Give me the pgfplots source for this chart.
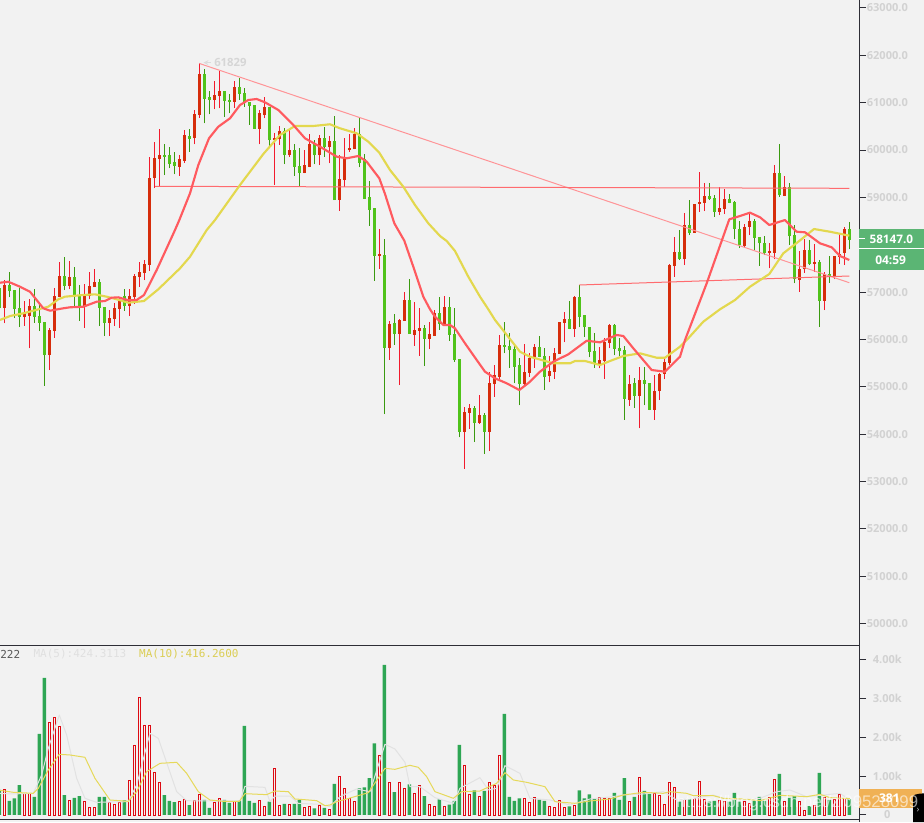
\documentclass[border=0pt]{standalone}
\usepackage{fontspec}
\setmainfont{Open Sans}
\newfontfamily\monofnt{DejaVu Sans Mono}
\newfontfamily\wmfnt{Liberation Sans}
\usepackage{pgfplots}
\usepackage{pgfplotstable}
\pgfplotsset{compat=1.18}
\definecolor{bgc}{HTML}{F2F2F2}
\definecolor{axc}{HTML}{2E2E36}
\definecolor{lab}{HTML}{D2D2D2}
\definecolor{rwick}{HTML}{F21B2D}
\definecolor{rbody}{HTML}{D62D0B}
\definecolor{gwick}{HTML}{3A9A10}
\definecolor{gbody}{HTML}{50C31A}
\definecolor{vgreen}{HTML}{2EA654}
\definecolor{vred}{HTML}{DD0A12}
\definecolor{maR}{HTML}{FF5A5F}
\definecolor{maY}{HTML}{E3D84E}
\definecolor{vY}{HTML}{E6D95A}
\definecolor{vG}{HTML}{E2E2E2}
\definecolor{tagG}{HTML}{5BB574}
\definecolor{tagO}{HTML}{F0B155}
\pgfplotstableread{
x l h b t
0 56340 57255 56671 57149
4 56290 56811 56481 56572
5 55812 56847 56495 56706
9 55354 56234 55671 56199
10 56037 57079 56185 56917
11 56903 57635 56903 57339
13 57058 57656 57135 57318
16 56248 57163 56706 56917
17 56847 57417 56917 57128
18 57107 57487 57107 57213
21 56072 56621 56354 56452
22 56283 56776 56438 56657
23 56248 56868 56650 56833
25 56495 57058 56706 56917
26 56748 57382 56903 57339
27 57114 57628 57318 57424
28 57255 57677 57410 57593
29 57445 59846 57578 59403
30 59191 60177 59403 59825
31 59241 60445 59818 59895
35 59452 59895 59649 59804
36 59733 60423 59769 60318
38 60121 60846 60247 60761
39 60677 61829 60747 61606
42 60860 61458 61057 61163
43 60881 61677 61141 61247
46 60895 61458 61015 61332
51 60121 60846 60445 60775
52 60670 61113 60740 60909
54 59262 60353 60212 60254
55 60107 60508 60226 60402
57 59860 60459 59888 60001
60 59508 60001 59515 59684
61 59635 60339 59649 60128
63 59684 60318 59895 60247
65 59719 60297 60057 60184
67 58720 59895 58945 59381
68 59227 60247 59367 59825
69 59966 60332 60001 60043
70 60015 60459 60022 60339
75 57488 58332 57760 57810
77 55566 56397 55827 56327
79 55038 56432 56115 56411
80 56390 57009 56390 56833
82 55862 56784 56094 56200
83 55651 56657 56179 56242
85 55791 56362 56010 56115
86 56080 56622 56080 56552
88 56305 56918 56305 56686
92 53271 54567 54053 54461
93 54116 54630 54447 54552
95 54215 54820 54236 54398
97 53644 55320 54053 55073
98 54792 55468 55059 55242
99 55144 56087 55214 55883
104 55003 55904 55052 55313
105 55214 55707 55299 55615
106 55404 55904 55615 55834
109 55095 55651 55228 55327
110 55172 55827 55320 55707
111 55693 56376 55693 56369
112 55939 56587 56355 56425
114 56059 56918 56221 56897
119 55390 55834 55482 55566
120 55172 56024 55552 55953
121 55813 56327 55932 56305
125 54595 55242 54728 55052
127 54123 55411 54813 55144
130 54306 55242 54517 54904
131 54721 55285 54904 55271
132 55158 55580 55271 55524
133 55450 57586 55509 57572
134 57325 58170 57551 57839
136 57572 58677 57691 58417
138 58250 58860 58255 58860
139 58698 59543 58860 58902
140 58712 59311 58888 59029
143 58628 59212 58698 58776
144 58649 59170 58762 58959
148 57938 58438 57980 58381
149 58205 58698 58381 58508
153 57501 58043 57825 57867
154 57691 59684 57832 59508
156 59029 59451 59036 59219
159 57009 57874 57262 57480
160 57410 58114 57480 57889
162 57431 58008 57593 57635
164 56621 57431 56819 57382
166 57276 57762 57318 57762
167 57593 58226 57748 57804
168 57572 58367 57825 58332
}\redC
\pgfplotstableread{
x l h b t
-1 56600 57150 56671 57079
1 56889 57417 57023 57149
2 56452 57044 56643 57044
3 56262 57079 56481 56664
6 56354 57058 56481 56706
7 56178 56748 56354 56495
8 55023 56368 55671 56368
12 57044 57734 57135 57339
14 56692 57530 56924 57318
15 56396 57149 56692 56924
19 56283 57269 56671 57213
20 56072 56692 56354 56678
24 56607 57058 56706 56917
32 59473 60128 59860 59895
33 59614 60057 59705 59895
34 59487 59966 59670 59748
37 59966 60437 60240 60297
40 60564 61712 61085 61606
41 60754 61247 61057 61120
44 60705 61247 61043 61247
45 60775 61184 61015 61057
47 61057 61515 61184 61332
48 60916 61303 61015 61205
49 60529 61022 60937 61015
50 60445 60951 60445 60951
53 60092 60909 60212 60902
56 59705 60459 59895 60402
58 59452 60128 59649 60001
59 59227 60036 59515 59663
62 59698 60212 59888 60128
64 59860 60480 60071 60247
66 58945 60719 58945 60191
71 59635 60691 59733 60339
72 58966 59917 58966 59811
73 58402 59346 58734 59015
74 57240 58776 57768 58776
76 54425 58115 55825 57777
78 55883 56538 56115 56341
81 56129 57270 56122 56833
84 55439 56305 56010 56242
87 56200 56904 56327 56559
89 55975 56890 56094 56686
90 55531 56664 55566 56115
91 53933 55587 54053 55587
94 53834 54595 54236 54552
96 53588 54440 54053 54405
100 55707 56376 55841 55883
101 55404 56129 55777 55862
102 55073 55904 55425 55806
103 54609 55601 55059 55461
107 55623 56080 55630 55834
108 54933 55813 55214 55651
113 56214 56805 56221 56425
115 56256 57157 56481 56897
116 56059 56517 56256 56510
117 55623 56270 55742 56263
118 55404 56129 55496 55756
122 55665 56319 55806 56305
123 55658 56024 55756 55820
124 54299 55862 54750 55777
126 54560 55186 54813 55080
128 54609 55411 55059 55144
129 54510 55087 54517 55080
135 57677 58311 57691 57846
137 58205 58945 58255 58417
141 58945 59311 58966 59029
142 58593 59050 58698 58987
145 58874 59071 58888 58959
146 58114 58923 58325 58902
147 57938 58508 57987 58325
150 57889 58536 58149 58494
151 57558 58170 58029 58156
152 57783 58184 57818 58029
155 59015 60120 59050 59508
157 57994 59297 58184 59212
158 57185 58417 57276 58205
161 57572 58100 57593 57889
163 56269 57677 56819 57635
165 57199 57762 57318 57375
169 57903 58480 58100 58332
}\greenC
\pgfplotstableread{
x v
-1 643
1 360
2 429
3 771
6 463
7 2083
8 3522
12 514
14 437
15 488
19 463
20 463
24 377
32 514
33 360
34 334
37 257
40 386
41 180
44 386
45 309
47 369
48 2288
49 360
50 309
53 343
56 283
58 283
59 386
62 171
64 180
66 797
71 686
72 711
73 951
74 1843
76 3857
78 591
81 788
84 488
87 403
89 266
90 360
91 1800
94 634
96 617
100 2597
101 463
102 360
103 429
107 394
108 360
113 223
115 634
116 429
117 531
118 411
122 566
123 386
124 951
126 463
128 617
129 540
135 343
137 411
141 343
142 360
145 343
146 566
147 343
150 360
151 463
152 360
155 1054
157 437
158 488
161 231
163 1080
165 386
169 411
}\greenV
\pgfplotstableread{
x v
0 660
4 557
5 557
9 2382
10 2520
11 2288
13 377
16 351
17 197
18 197
21 317
22 274
23 334
25 891
26 1791
27 3025
28 2305
29 2305
30 1097
31 840
35 351
36 394
38 377
39 531
42 334
43 429
46 343
51 377
52 223
54 1200
55 249
57 274
60 197
61 223
63 240
65 146
67 994
68 686
69 429
70 360
75 1534
77 840
79 840
80 686
82 557
83 763
85 274
86 223
88 223
92 1277
93 540
95 480
97 840
98 763
99 1534
104 429
105 326
106 454
109 223
110 197
111 377
112 197
114 240
119 454
120 437
121 437
125 360
127 968
130 566
131 514
132 283
133 840
134 711
136 411
138 429
139 874
140 411
143 386
144 360
148 360
149 309
153 463
154 917
156 360
159 360
160 129
162 257
164 463
166 411
167 531
168 429
}\redV
\begin{document}
\begin{tikzpicture}[x=1pt,y=1pt]
\useasboundingbox (0,0) rectangle (693pt,616.5pt);
\fill[bgc] (0,0) rectangle (693pt,616.5pt);
\begin{axis}[
  at={(0pt,132.75pt)}, anchor=south west, scale only axis,
  width=644.25pt, height=483.75pt,
  xmin=-0.86, xmax=170.94, ymin=49547, ymax=63169,
  axis x line=none, axis y line=right,
  axis line style={-, draw=axc, line width=.75pt},
  xtick=\empty,
  ytick={50000,51000,52000,53000,54000,55000,56000,57000,58000,59000,60000,61000,62000,63000},
  yticklabels={50000.0,51000.0,52000.0,53000.0,54000.0,55000.0,56000.0,57000.0,58000.0,59000.0,60000.0,61000.0,62000.0,63000.0},
  tick align=outside, major tick length=5.25pt,
  tick style={draw=axc, line width=.75pt},
  yticklabel style={font=\bfseries\fontsize{8.3}{10}\selectfont, text=lab, anchor=center, xshift=16pt},
  clip=true,
]
\addplot[draw=none, forget plot, error bars/.cd, y dir=plus, y explicit, error mark=none, error bar style={rwick, line width=.75pt}] table[x=x, y=l, y error expr=\thisrow{h}-\thisrow{l}] {\redC};
\addplot[draw=none, forget plot, error bars/.cd, y dir=plus, y explicit, error mark=none, error bar style={gwick, line width=.75pt}] table[x=x, y=l, y error expr=\thisrow{h}-\thisrow{l}] {\greenC};
\addplot[draw=none, forget plot, error bars/.cd, y dir=plus, y explicit, error mark=none, error bar style={rbody, line width=2.4pt}] table[x=x, y=b, y error expr=\thisrow{t}-\thisrow{b}] {\redC};
\addplot[draw=none, forget plot, error bars/.cd, y dir=plus, y explicit, error mark=none, error bar style={gbody, line width=2.4pt}] table[x=x, y=b, y error expr=\thisrow{t}-\thisrow{b}] {\greenC};
% trend lines
\addplot[color=maR!65!white, line width=.75pt] coordinates {(39,61829) (169,57198)};
\addplot[color=maR!90!white, line width=.75pt] coordinates {(30.14,59234) (169,59192)};
\addplot[color=maR!90!white, line width=.75pt] coordinates {(115,57150) (169,57340)};
% yellow MA
\addplot[color=maY, line width=1.6pt, line join=round] coordinates {
(-0.86,56411)(1.14,56495)(3.8,56552)(5.8,56607)(8.8,56692)(10.8,56848)(12.14,56903)(15.8,56939)(18.14,56953)(20.48,56903)(22.48,56848)(24.8,56776)(27.94,56812)(30.8,57059)(35.14,57502)(37.14,57747)(40.48,58311)(42.14,58522)(47.14,59262)(51.8,59916)(55.14,60318)(58.14,60508)(61.8,60508)(65.14,60544)(67.14,60459)(70.48,60354)(72.8,60176)(75,59944)(77.14,59579)(79.8,59226)(82.14,58839)(84.8,58453)(87.14,58185)(88.48,58079)(90.14,57868)(92.8,57325)(95.14,56903)(96.8,56637)(98.14,56411)(103.14,55741)(105.14,55635)(109.8,55496)(113.14,55496)(114.14,55545)(116.14,55545)(119.14,55460)(121.14,55545)(123.8,55650)(127.14,55707)(130.48,55614)(132.14,55614)(135.14,55847)(136.48,55988)(139.8,56375)(143.14,56637)(146.14,56833)(149.14,57114)(153,57382)(155.8,57819)(158.8,58064)(161.94,58332)(165.14,58275)(169,58191)};
% red MA
\addplot[color=maR, line width=1.6pt, line join=round] coordinates {
(-0.86,57198)(0.8,57219)(3.14,57114)(5.14,57008)(7.8,56658)(9.14,56607)(11.8,56658)(13.14,56679)(15.8,56691)(18.48,56797)(20.14,56812)(21.48,56882)(22.8,56890)(24.8,56827)(26.48,56833)(27.94,56938)(30.48,57467)(34.14,58311)(35,58522)(37.14,59086)(38.8,59684)(40.94,60248)(42.8,60493)(45.14,60670)(47.14,60951)(48.8,61057)(50.48,61078)(52.14,61008)(54.8,60846)(57.8,60529)(60.14,60248)(63.14,60071)(66.48,59860)(68.48,59826)(70.8,59874)(72.48,59754)(75,59403)(76.14,59072)(78,58453)(80,58086)(81.8,57536)(83.8,56903)(85.14,56637)(86.14,56480)(87.8,56305)(89.14,56305)(90.14,56235)(92.14,55918)(94.48,55566)(96.14,55319)(98.14,55179)(100.48,55074)(103,54932)(105.14,55107)(107.14,55319)(109.8,55530)(112.8,55686)(116.48,55973)(119.14,55939)(122.48,56094)(123.8,56073)(125.8,55813)(129.48,55354)(132.14,55319)(135.14,55635)(136.14,55988)(140.48,57186)(145,58537)(147.14,58607)(149.14,58677)(151.14,58580)(153,58417)(156.14,58522)(158.48,58275)(160.14,58263)(163.14,58030)(165.48,57946)(167.14,57762)(169,57678)};
\end{axis}
\begin{axis}[
  at={(0pt,2.25pt)}, anchor=south west, scale only axis,
  width=644.25pt, height=130.5pt,
  xmin=-0.86, xmax=170.94, ymin=-103, ymax=4370,
  axis x line=box, axis y line=right,
  axis line style={-, draw=axc, line width=.75pt},
  xtick=\empty,
  ytick={0,1000,2000,3000,4000},
  yticklabels={0,1.00k,2.00k,3.00k,4.00k},
  tick align=outside, major tick length=5.25pt,
  tick style={draw=axc, line width=.75pt},
  yticklabel style={font=\bfseries\fontsize{8.3}{10}\selectfont, text=lab, anchor=center, xshift=16pt},
]
\addplot[ybar, bar shift=0pt, bar width=2.6pt, fill=vgreen, draw=none] table[x=x, y=v] {\greenV};
\addplot[ybar, bar shift=0pt, bar width=1.9pt, fill=bgc, draw=vred, line width=.7pt] table[x=x, y=v] {\redV};
\addplot[color=vG, line width=.75pt, line join=round] coordinates {
(-0.87,557)(1.13,540)(5.8,557)(7.47,1028)(8.8,1714)(11,2571)(12.47,2057)(14.47,943)(16.13,429)(18.47,326)(24.8,343)(26.47,771)(29.13,2100)(30.8,1971)(34.47,600)(36.47,369)(39.13,360)(47.13,360)(48.13,737)(52.13,711)(53.13,343)(54.13,488)(57.13,488)(58.8,300)(63.13,274)(65.13,214)(67.13,471)(70.47,668)(73.13,600)(76.13,1817)(78.13,1697)(80.13,1354)(81.13,728)(83.13,728)(86.13,446)(89.8,300)(91.13,686)(95.13,960)(96.8,643)(98.47,686)(100.13,1268)(103.13,1071)(105.13,429)(109.13,386)(113.13,257)(117.13,411)(121.13,463)(123.8,514)(127.8,540)(131.8,600)(134.47,386)(137.13,411)(141.8,514)(143.8,429)(147.8,386)(151.13,429)(154.47,600)(157.13,643)(160.47,471)(163.8,514)(167.13,557)(169.13,386)};
\addplot[color=vY, line width=.75pt, line join=round] coordinates {
(-0.87,634)(1.8,583)(5.8,557)(6.8,686)(8.8,1157)(11,1560)(13.13,1543)(16.13,1483)(18.13,943)(21.13,386)(24.8,351)(26.47,600)(28.47,1114)(31.13,1328)(34.47,1354)(36.47,1071)(38.8,600)(41.13,386)(43.8,351)(47,351)(48.13,548)(52.47,523)(54.13,617)(56.8,600)(58.13,411)(59.13,403)(62.47,369)(64.13,240)(65.13,257)(66.47,343)(68.47,411)(72.8,574)(76.13,1200)(78.13,1174)(81.13,1277)(82.8,1226)(84.47,986)(86.13,600)(89.8,429)(91.47,600)(95.13,617)(98.47,814)(100.13,1088)(101.8,900)(104.47,840)(108.13,728)(110.13,343)(114.13,300)(117.13,360)(121.13,411)(123.8,514)(127.8,583)(131.8,557)(133.13,600)(136.47,557)(137.8,497)(141.8,497)(143.8,429)(147.8,411)(151.13,369)(155.13,506)(160.47,471)(163.13,531)(165.13,446)(169.13,420)};
\end{axis}
% extra stub of the price axis line below the volume panel
\draw[axc, line width=.75pt] (644.25pt,0) -- (644.25pt,3pt);
% annotation
\node[anchor=west, inner sep=0pt, text=black!16, font=\bfseries\fontsize{8.5}{10}\selectfont] at (160.5pt,569.5pt) {61829};
\draw[black!14, line width=.7pt, ->, >=stealth] (158pt,569.5pt) -- (152.5pt,569.5pt);
% volume legend
\node[anchor=west, inner sep=0pt, font=\monofnt\fontsize{8.25}{10}\selectfont, text=black!65] at (0pt,126pt) {222};
\node[anchor=west, inner sep=0pt, font=\monofnt\fontsize{8.25}{10}\selectfont, text=black!12] at (25pt,126pt) {MA(5):424.3113};
\node[anchor=west, inner sep=0pt, font=\monofnt\fontsize{8.25}{10}\selectfont, text=vY!95!black] at (104.2pt,126pt) {MA(10):416.2600};
% price tags
\fill[tagG] (644.6pt,414pt) rectangle (693pt,444.75pt);
\draw[white, line width=.75pt] (644.6pt,429.75pt) -- (693pt,429.75pt);
\draw[white, line width=.75pt] (644.6pt,437.25pt) -- (649pt,437.25pt);
\node[text=white, inner sep=0pt, font=\bfseries\fontsize{8.8}{10}\selectfont] at (668.5pt,437.2pt) {58147.0};
\node[text=white, inner sep=0pt, font=\bfseries\fontsize{9}{10}\selectfont] at (668pt,421.5pt) {04:59};
\fill[tagO] (644.6pt,10.5pt) rectangle (691.5pt,24.75pt);
\node[text=white, inner sep=0pt, font=\bfseries\fontsize{9}{10}\selectfont] at (667pt,18pt) {381};
\fill[black] (684.75pt,0) -- (684.75pt,18pt) .. controls (684.75pt,20.5pt) and (686pt,21pt) .. (693pt,21.5pt) -- (693pt,0) -- cycle;
\node[text=white!75!black, inner sep=0pt, font=\fontsize{7}{8}\selectfont] at (688.5pt,9pt) {›};
% watermark
\node[anchor=west, inner sep=0pt, text=white, opacity=.6, font=\wmfnt\fontsize{12.6}{13}\selectfont] at (507pt,14.5pt) {https://blog.csdn.net/zl09528099};
\end{tikzpicture}
\end{document}
